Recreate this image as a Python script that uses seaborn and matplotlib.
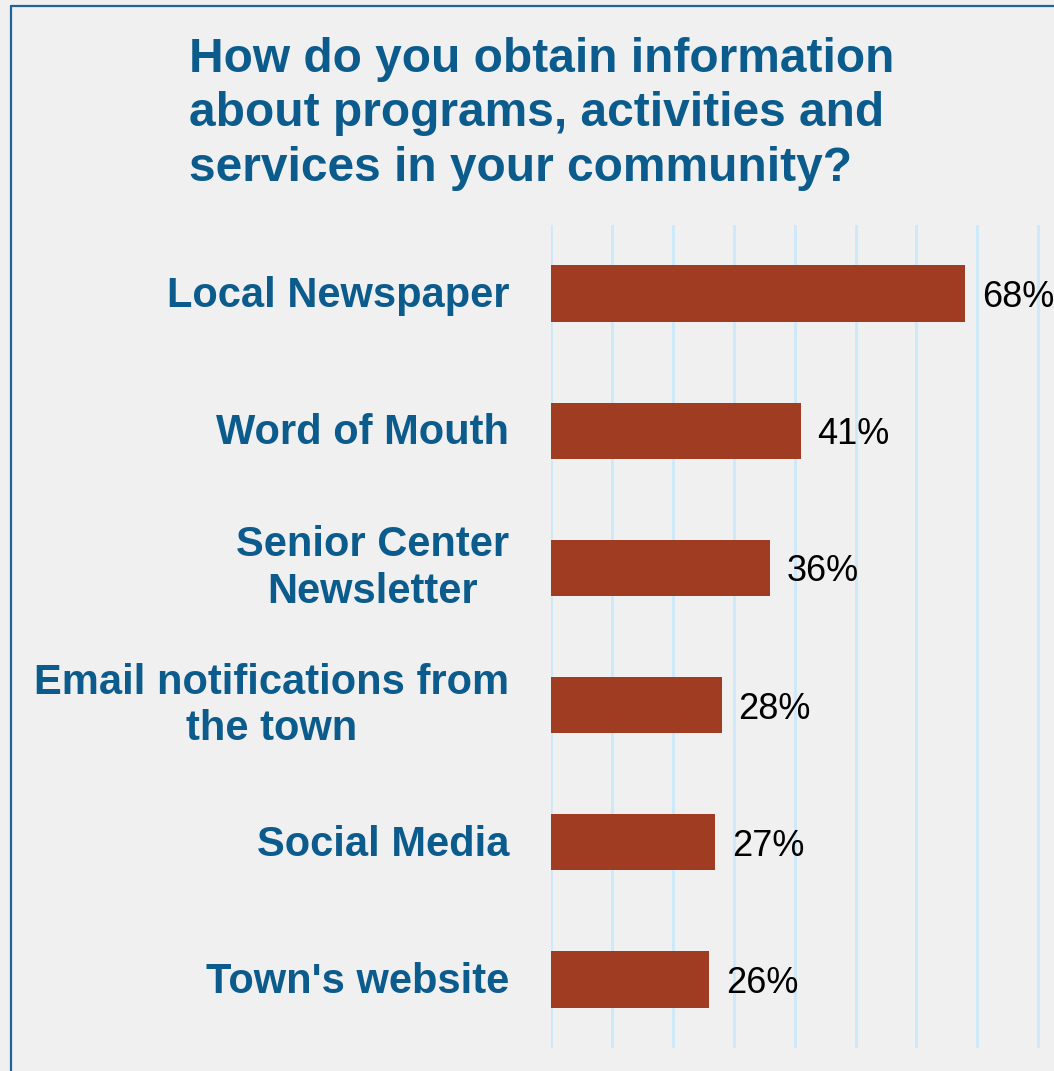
import matplotlib
matplotlib.use("Agg")
import matplotlib.pyplot as plt
from matplotlib.lines import Line2D
from matplotlib.transforms import ScaledTranslation
import seaborn as sns
import pandas as pd

# Survey responses
categories = [
    "Local Newspaper",
    "Word of Mouth",
    "Senior Center\nNewsletter",
    "Email notifications from\nthe town",
    "Social Media",
    "Town's website",
]
percentages = [68, 41, 36, 28, 27, 26]
title_text = ("How do you obtain information\n"
              "about programs, activities and\n"
              "services in your community?")

BG = "#f0f0f0"
BAR = "#a03c22"
BLUE = "#0b5b8c"
GRID = "#cde9f9"

sns.set_style("whitegrid", {"axes.facecolor": BG, "figure.facecolor": BG,
                            "grid.color": GRID})
plt.rcParams["font.family"] = ["Liberation Sans", "DejaVu Sans"]

df = pd.DataFrame({"source": categories, "pct": percentages})

W, H = 1054, 1071
fig = plt.figure(figsize=(W / 100, H / 100), dpi=100)
fig.patch.set_facecolor(BG)

ax = fig.add_axes([551 / W, 1 - 1048 / H, 1 - 551 / W, (1048 - 225) / H])
sns.barplot(data=df, x="pct", y="source", orient="h", color=BAR,
            saturation=1, width=0.41, linewidth=0, ax=ax)

ax.set_xlim(0, 503 / 6.09)
ax.set_xticks(range(0, 90, 10))
ax.xaxis.grid(True, color=GRID, linewidth=2)
ax.yaxis.grid(False)
ax.tick_params(axis="x", length=0, labelbottom=False)
ax.tick_params(axis="y", length=0, pad=30)
ax.set_xlabel("")
ax.set_ylabel("")
for s in ax.spines.values():
    s.set_visible(False)
ax.set_axisbelow(True)

for lbl in ax.get_yticklabels():
    lbl.set_fontsize(30)
    lbl.set_fontweight("bold")
    lbl.set_color(BLUE)
    lbl.set_multialignment("center")
    lift = 7 if "\n" in lbl.get_text() else 2
    lbl.set_transform(lbl.get_transform()
                      + ScaledTranslation(0, lift / 100, fig.dpi_scale_trans))

# value labels at the end of each bar
for patch, v in zip(ax.containers[0], percentages):
    ax.annotate(f"{v}%", (patch.get_width(), patch.get_y() + patch.get_height() / 2),
                xytext=(12, 0), textcoords="offset points",
                ha="left", va="center_baseline", fontsize=26, color="black")

fig.text(189 / W, 1 - 114 / H, title_text, ha="left", va="center",
         fontsize=34.5, fontweight="bold", color=BLUE, linespacing=1.26)

# frame lines along the left and top edges
fig.add_artist(Line2D([10.5 / W, 10.5 / W], [0, 1 - 5.5 / H],
                      transform=fig.transFigure, color="#1f6496", linewidth=1.6))
fig.add_artist(Line2D([10.5 / W, 1], [1 - 5.5 / H, 1 - 5.5 / H],
                      transform=fig.transFigure, color="#1f6496", linewidth=1.6))

fig.savefig("out.png", dpi=100, facecolor=BG)
